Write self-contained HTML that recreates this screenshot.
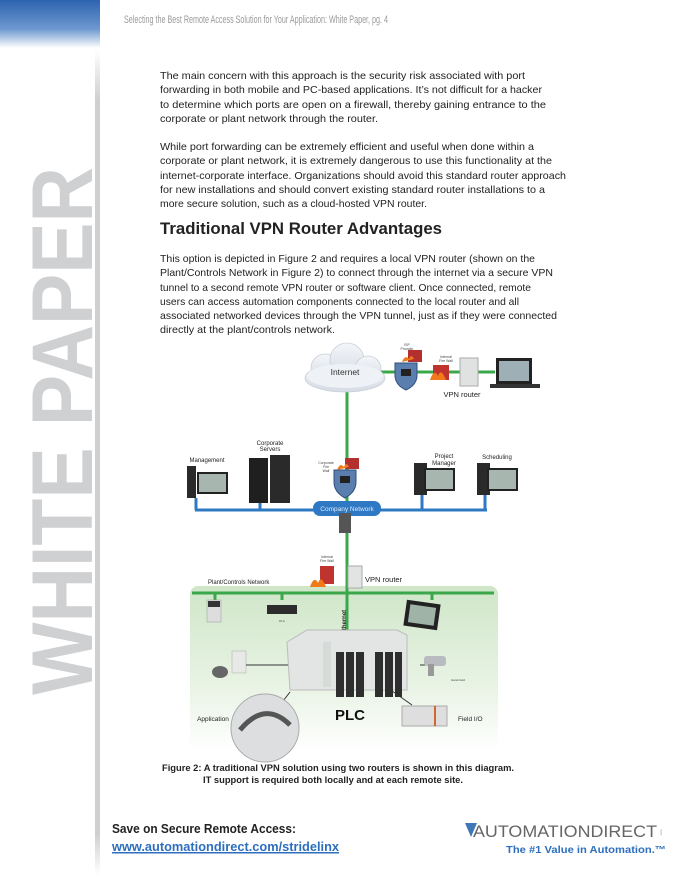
<!DOCTYPE html>
<html><head><meta charset="utf-8"><style>
html,body{margin:0;padding:0;background:#fff}
svg{display:block}
</style></head><body>
<svg width="685" height="888" viewBox="0 0 685 888" xmlns="http://www.w3.org/2000/svg" font-family="Liberation Sans, sans-serif">
<defs>
<linearGradient id="hb" x1="0" y1="0" x2="0" y2="1"><stop offset="0" stop-color="#2d64b0"/><stop offset="0.6" stop-color="#6d97cf"/><stop offset="1" stop-color="#ffffff"/></linearGradient>
<linearGradient id="vl" x1="0" y1="0" x2="0" y2="1"><stop offset="0" stop-color="#fff"/><stop offset="0.06" stop-color="#cfcfcf"/><stop offset="0.95" stop-color="#cfcfcf"/><stop offset="1" stop-color="#fff"/></linearGradient>
<linearGradient id="pg" x1="0" y1="0" x2="0" y2="1"><stop offset="0" stop-color="#cfe6c8"/><stop offset="0.6" stop-color="#e8f3e4"/><stop offset="1" stop-color="#ffffff"/></linearGradient>
<linearGradient id="cl" x1="0" y1="0" x2="0" y2="1"><stop offset="0" stop-color="#f4f6f9"/><stop offset="1" stop-color="#d5dbe4"/></linearGradient>
</defs>
<!-- header -->
<rect x="0" y="0" width="100" height="48" fill="url(#hb)"/>
<rect x="95" y="50" width="5" height="825" fill="url(#vl)"/>
<text x="124" y="23" font-size="11" fill="#9a9a9a" textLength="264" lengthAdjust="spacingAndGlyphs">Selecting the Best Remote Access Solution for Your Application: White Paper,  pg. 4</text>
<!-- WHITE PAPER -->
<text transform="translate(92,695) rotate(-90)" font-size="86" font-weight="bold" fill="#cfd0d2" textLength="528" lengthAdjust="spacingAndGlyphs">WHITE PAPER</text>

<g font-size="10.5" fill="#222">
<text x="160" y="79" textLength="365" lengthAdjust="spacingAndGlyphs">The main concern with this approach is the security risk associated with port</text>
<text x="160" y="93" textLength="382" lengthAdjust="spacingAndGlyphs">forwarding in both mobile and PC-based applications. It’s not difficult for a hacker</text>
<text x="160" y="108" textLength="386" lengthAdjust="spacingAndGlyphs">to determine which ports are open on a firewall, thereby gaining entrance to the</text>
<text x="160" y="122" textLength="218" lengthAdjust="spacingAndGlyphs">corporate or plant network through the router.</text>
<text x="160" y="150" textLength="374" lengthAdjust="spacingAndGlyphs">While port forwarding can be extremely efficient and useful when done within a</text>
<text x="160" y="164" textLength="392" lengthAdjust="spacingAndGlyphs">corporate or plant network, it is extremely dangerous to use this functionality at the</text>
<text x="160" y="179" textLength="406" lengthAdjust="spacingAndGlyphs">internet-corporate interface. Organizations should avoid this standard router approach</text>
<text x="160" y="193" textLength="385" lengthAdjust="spacingAndGlyphs">for new installations and should convert existing standard router installations to a</text>
<text x="160" y="207" textLength="267" lengthAdjust="spacingAndGlyphs">more secure solution, such as a cloud-hosted VPN router.</text>
<text x="160" y="262" textLength="375" lengthAdjust="spacingAndGlyphs">This option is depicted in Figure 2 and requires a local VPN router (shown on the</text>
<text x="160" y="276" textLength="393" lengthAdjust="spacingAndGlyphs">Plant/Controls Network in Figure 2) to connect through the internet via a secure VPN</text>
<text x="160" y="291" textLength="371" lengthAdjust="spacingAndGlyphs">tunnel to a second remote VPN router or software client. Once connected, remote</text>
<text x="160" y="305" textLength="359" lengthAdjust="spacingAndGlyphs">users can access automation components connected to the local router and all</text>
<text x="160" y="319" textLength="397" lengthAdjust="spacingAndGlyphs">associated networked devices through the VPN tunnel, just as if they were connected</text>
<text x="160" y="333" textLength="175" lengthAdjust="spacingAndGlyphs">directly at the plant/controls network.</text>
</g>
<text x="160" y="234" font-size="17" font-weight="bold" fill="#222" textLength="282" lengthAdjust="spacingAndGlyphs">Traditional VPN Router Advantages</text>

<!-- DIAGRAM -->
<!-- plant panel -->
<rect x="190" y="586" width="308" height="165" rx="8" fill="url(#pg)"/>
<!-- green lines -->
<g stroke="#3aa84a" stroke-width="3" fill="none">
<line x1="347" y1="390" x2="347" y2="640"/>
<line x1="380" y1="372" x2="495" y2="372"/>
<line x1="192" y1="593" x2="494" y2="593"/>
<line x1="215" y1="593" x2="215" y2="600"/>
<line x1="282" y1="593" x2="282" y2="600"/>
<line x1="432" y1="593" x2="432" y2="600"/>
</g>
<!-- blue company network -->
<g stroke="#2f79c4" stroke-width="3" fill="none">
<line x1="195" y1="510" x2="487" y2="510"/>
<line x1="196" y1="498" x2="196" y2="510"/>
<line x1="260" y1="503" x2="260" y2="510"/>
<line x1="422" y1="495" x2="422" y2="510"/>
<line x1="485" y1="495" x2="485" y2="510"/>
</g>
<rect x="313" y="501" width="68" height="15" rx="7" fill="#2f79c4"/>
<text x="347" y="511" font-size="6.5" fill="#dfe9f6" text-anchor="middle">Company Network</text>
<!-- cloud -->
<g fill="url(#cl)" stroke="#c8ced8" stroke-width="0.8">
<ellipse cx="345" cy="378" rx="40" ry="14"/>
<circle cx="325" cy="368" r="14"/><circle cx="347" cy="360" r="17"/><circle cx="368" cy="369" r="13"/>
</g>
<ellipse cx="345" cy="376" rx="38" ry="12" fill="#eef1f5"/>
<text x="345" y="375" font-size="8.5" fill="#333" text-anchor="middle">Internet</text>
<!-- ISP shield -->
<path d="M395 363 h22 v12 q0 10 -11 15 q-11 -5 -11 -15z" fill="#5a7fae" stroke="#2f4f7e"/>
<rect x="401" y="369" width="10" height="7" fill="#222"/>
<rect x="408" y="350" width="14" height="12" fill="#b3302f"/><path d="M402 362 q3 -8 7 -3 q2 -6 5 0z" fill="#f07a1a"/>
<text x="407" y="346" font-size="3.5" fill="#444" text-anchor="middle">ISP</text>
<text x="407" y="350" font-size="3.5" fill="#444" text-anchor="middle">Provider</text>
<!-- remote VPN router -->
<rect x="433" y="365" width="16" height="15" fill="#c0342f"/><path d="M430 380 q4 -12 8 -4 q3 -9 8 4z" fill="#f07a1a"/>
<rect x="460" y="358" width="18" height="28" fill="#e0e2e2" stroke="#aaa"/>
<text x="446" y="358" font-size="3.5" fill="#444" text-anchor="middle">Internal</text>
<text x="446" y="362" font-size="3.5" fill="#444" text-anchor="middle">Fire Wall</text>
<text x="462" y="397" font-size="7.5" fill="#222" text-anchor="middle">VPN router</text>
<!-- laptop -->
<rect x="496" y="358" width="36" height="26" fill="#222"/><rect x="499" y="361" width="30" height="20" fill="#9eb0b6"/>
<rect x="490" y="384" width="50" height="4" fill="#333"/>
<!-- management -->
<text x="207" y="462" font-size="6" fill="#222" text-anchor="middle">Management</text>
<rect x="187" y="466" width="9" height="32" fill="#2a2a2a"/>
<rect x="197" y="472" width="31" height="22" fill="#222"/><rect x="199" y="474" width="27" height="18" fill="#a8b6b0"/>
<!-- servers -->
<text x="270" y="445" font-size="6" fill="#222" text-anchor="middle">Corporate</text>
<text x="270" y="451" font-size="6" fill="#222" text-anchor="middle">Servers</text>
<rect x="249" y="458" width="19" height="45" fill="#1f1f1f"/><rect x="270" y="455" width="20" height="48" fill="#2a2a2a"/>
<!-- corporate firewall -->
<path d="M334 470 h22 v12 q0 10 -11 16 q-11 -6 -11 -16z" fill="#5a7fae" stroke="#2f4f7e"/>
<rect x="340" y="476" width="10" height="7" fill="#222"/>
<rect x="345" y="458" width="14" height="11" fill="#b3302f"/><path d="M337 470 q3 -8 7 -3 q2 -6 5 0z" fill="#f07a1a"/>
<text x="326" y="464" font-size="3.5" fill="#444" text-anchor="middle">Corporate</text>
<text x="326" y="468" font-size="3.5" fill="#444" text-anchor="middle">Fire</text>
<text x="326" y="472" font-size="3.5" fill="#444" text-anchor="middle">Wall</text>
<!-- project manager & scheduling -->
<text x="444" y="458" font-size="6" fill="#222" text-anchor="middle">Project</text>
<text x="444" y="465" font-size="6" fill="#222" text-anchor="middle">Manager</text>
<rect x="414" y="463" width="13" height="32" fill="#2a2a2a"/>
<rect x="424" y="468" width="31" height="23" fill="#222"/><rect x="426" y="470" width="27" height="19" fill="#a8b6b0"/>
<text x="497" y="459" font-size="6" fill="#222" text-anchor="middle">Scheduling</text>
<rect x="477" y="463" width="13" height="32" fill="#2a2a2a"/>
<rect x="487" y="468" width="31" height="23" fill="#222"/><rect x="489" y="470" width="27" height="19" fill="#a8b6b0"/>
<!-- switch -->
<rect x="339" y="513" width="12" height="20" fill="#555"/>
<!-- internal fw + vpn router -->
<text x="327" y="558" font-size="3.5" fill="#444" text-anchor="middle">Internal</text>
<text x="327" y="562" font-size="3.5" fill="#444" text-anchor="middle">Fire Wall</text>
<rect x="320" y="566" width="14" height="18" fill="#c0342f"/><path d="M310 587 q4 -12 8 -4 q3 -9 8 4z" fill="#f07a1a"/>
<rect x="348" y="566" width="14" height="22" fill="#e2e4e4" stroke="#aaa"/>
<text x="365" y="582" font-size="7.5" fill="#222">VPN router</text>
<text x="208" y="584" font-size="6" fill="#222">Plant/Controls Network</text>
<!-- plant devices -->
<rect x="207" y="600" width="14" height="22" fill="#ddd" stroke="#999" stroke-width="0.5"/><rect x="208" y="601" width="12" height="6" fill="#333"/>
<rect x="267" y="605" width="30" height="9" fill="#2c2c2c"/>
<text x="282" y="622" font-size="3" fill="#444" text-anchor="middle">PLC</text>
<rect x="405" y="602" width="34" height="26" fill="#222" transform="rotate(8 422 615)"/><rect x="409" y="606" width="26" height="18" fill="#9fb3a6" transform="rotate(8 422 615)"/>
<text x="346" y="622" font-size="6" font-weight="bold" fill="#222" transform="rotate(-90 346 622)" text-anchor="middle">Ethernet</text>
<!-- left VFD -->
<rect x="232" y="651" width="14" height="22" fill="#e8e8e6" stroke="#aaa" stroke-width="0.5"/>
<ellipse cx="220" cy="672" rx="8" ry="6" fill="#666"/>
<line x1="246" y1="665" x2="290" y2="665" stroke="#333"/>
<line x1="420" y1="665" x2="440" y2="665" stroke="#333"/>
<line x1="385" y1="686" x2="412" y2="705" stroke="#333"/>
<line x1="290" y1="692" x2="280" y2="705" stroke="#333"/>
<!-- PLC -->
<path d="M287 642 l20 -12 h90 l10 5 v55 h-117 z" fill="#e3e5e5" stroke="#bbb"/>
<rect x="323" y="642" width="8" height="45" fill="#d7dbd7"/>
<g fill="#2e2e2e"><rect x="336" y="652" width="8" height="45"/><rect x="346" y="652" width="8" height="45"/><rect x="356" y="652" width="8" height="45"/><rect x="375" y="652" width="8" height="45"/><rect x="385" y="652" width="8" height="45"/><rect x="395" y="652" width="7" height="45"/></g>
<text x="350" y="720" font-size="15" font-weight="bold" fill="#111" text-anchor="middle">PLC</text>
<!-- scanner -->
<rect x="424" y="656" width="22" height="10" rx="3" fill="#b8bcc0"/><rect x="428" y="664" width="6" height="12" fill="#999"/>
<text x="458" y="681" font-size="3" fill="#444" text-anchor="middle">Hand-held</text>
<!-- app circle -->
<circle cx="265" cy="728" r="34" fill="#dcdedf" stroke="#aaa"/>
<path d="M240 730 q25 -30 50 -5" stroke="#555" stroke-width="5" fill="none"/>
<text x="213" y="721" font-size="6.5" fill="#222" text-anchor="middle">Application</text>
<!-- field io -->
<rect x="402" y="706" width="45" height="20" fill="#dedede" stroke="#aaa"/>
<rect x="434" y="706" width="2" height="20" fill="#d1672c"/>
<text x="458" y="721" font-size="6.5" fill="#222">Field I/O</text>

<!-- caption -->
<text x="162" y="771" font-size="9" font-weight="bold" fill="#222" textLength="352" lengthAdjust="spacingAndGlyphs">Figure 2: A traditional VPN solution using two routers is shown in this diagram.</text>
<text x="203" y="783" font-size="9" font-weight="bold" fill="#222" textLength="260" lengthAdjust="spacingAndGlyphs">IT support is required both locally and at each remote site.</text>

<!-- footer -->
<text x="112" y="833" font-size="13" font-weight="bold" fill="#222" textLength="184" lengthAdjust="spacingAndGlyphs">Save on Secure Remote Access:</text>
<text x="112" y="851" font-size="13" font-weight="bold" fill="#2d6fbe" text-decoration="underline" textLength="227" lengthAdjust="spacingAndGlyphs">www.automationdirect.com/stridelinx</text>
<line x1="112" y1="853" x2="339" y2="853" stroke="#2d6fbe" stroke-width="1"/>
<path d="M465 823 l6 14 l6 -14 z" fill="#3f77b8"/>
<text x="473" y="837" font-size="17" fill="#666" textLength="184" lengthAdjust="spacingAndGlyphs">AUTOMATIONDIRECT</text>
<text x="662" y="836" font-size="3" fill="#888" transform="rotate(-90 662 836)">.com</text>
<text x="506" y="853" font-size="10" font-weight="bold" fill="#2d6fbe" textLength="160" lengthAdjust="spacingAndGlyphs">The #1 Value in Automation.™</text>
</svg>
</body></html>
